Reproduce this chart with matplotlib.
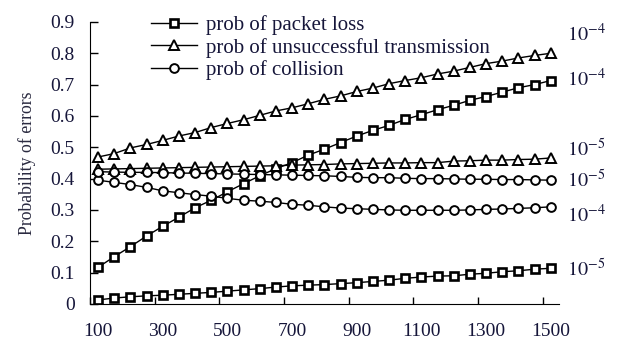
import numpy as np
import matplotlib.pyplot as plt

plt.rcParams['font.family'] = ['Liberation Serif', 'DejaVu Serif']
plt.rcParams['mathtext.fontset'] = 'stix'

x = np.arange(100, 1501, 50)

# set 1 (upper curves)
loss_1 = [0.117, 0.151, 0.183, 0.217, 0.248, 0.277, 0.307, 0.331, 0.358, 0.384,
          0.409, 0.432, 0.451, 0.475, 0.494, 0.515, 0.536, 0.554, 0.570, 0.589,
          0.604, 0.620, 0.634, 0.650, 0.662, 0.676, 0.690, 0.700, 0.713]
unsucc_1 = [0.469, 0.480, 0.498, 0.509, 0.522, 0.536, 0.547, 0.563, 0.576, 0.588,
            0.602, 0.616, 0.626, 0.639, 0.653, 0.664, 0.678, 0.689, 0.703, 0.713,
            0.722, 0.734, 0.743, 0.755, 0.767, 0.775, 0.785, 0.793, 0.800]
coll_1 = [0.395, 0.388, 0.381, 0.372, 0.361, 0.355, 0.349, 0.344, 0.337, 0.331,
          0.328, 0.324, 0.318, 0.315, 0.310, 0.306, 0.304, 0.302, 0.300, 0.299,
          0.299, 0.299, 0.299, 0.300, 0.302, 0.303, 0.305, 0.307, 0.310]

# set 2 (lower curves)
loss_2 = [0.013, 0.019, 0.023, 0.026, 0.028, 0.031, 0.034, 0.037, 0.041, 0.045,
          0.049, 0.054, 0.058, 0.060, 0.062, 0.065, 0.068, 0.072, 0.076, 0.082,
          0.086, 0.089, 0.090, 0.095, 0.098, 0.103, 0.106, 0.111, 0.114]
unsucc_2 = [0.430, 0.431, 0.432, 0.433, 0.434, 0.435, 0.436, 0.437, 0.438, 0.439,
            0.440, 0.441, 0.443, 0.444, 0.445, 0.447, 0.448, 0.449, 0.450, 0.450,
            0.451, 0.451, 0.456, 0.457, 0.459, 0.459, 0.461, 0.462, 0.466]
coll_2 = [0.422, 0.421, 0.420, 0.420, 0.419, 0.418, 0.417, 0.416, 0.415, 0.414,
          0.413, 0.412, 0.411, 0.410, 0.409, 0.407, 0.404, 0.403, 0.403, 0.401,
          0.400, 0.400, 0.399, 0.398, 0.398, 0.397, 0.397, 0.396, 0.395]

labels = ['prob of packet loss', 'prob of unsuccessful transmission', 'prob of collision']
end_labels = [r'$10^{-4}$', r'$10^{-4}$', r'$10^{-5}$', r'$10^{-5}$', r'$10^{-4}$', r'$10^{-5}$']
xtick_labels = [100, 300, 500, 700, 900, 1100, 1300, 1500]

txt = '#16163a'

fig = plt.figure(figsize=(6.26, 3.44), dpi=100)
ax = fig.add_axes([0.1438, 0.1163, 0.749, 0.82])

sq = dict(marker='s', ms=6.3, mew=1.9, mfc='white', mec='black')
tr = dict(marker='^', ms=6.8, mew=1.4, mfc='white', mec='black')
ci = dict(marker='o', ms=6.3, mew=1.4, mfc='white', mec='black')
line = dict(color='black', lw=1.0)

ax.plot(x, loss_1, label=labels[0], **line, **sq)
ax.plot(x, unsucc_1, label=labels[1], **line, **tr)
ax.plot(x, coll_1, label=labels[2], **line, **ci)
ax.plot(x, loss_2, **line, **sq)
ax.plot(x, unsucc_2, **line, **tr)
ax.plot(x, coll_2, **line, **ci)

# exponent labels at the right end of each curve
ends = [unsucc_1[-1], loss_1[-1], unsucc_2[-1], coll_2[-1], coll_1[-1], loss_2[-1]]
dys = [9, -4, 1, -5, -11, -6]
for lab, yv, dy in zip(end_labels, ends, dys):
    ax.annotate(lab, xy=(x[-1], yv), xytext=(12, dy), textcoords='offset points',
                ha='left', va='baseline', fontsize=14.5, color=txt, annotation_clip=False)

ax.set_xlim(75, 1525)
ax.set_ylim(0, 0.9)
ax.set_xticks(np.arange(75, 1500, 200))
ax.set_xticklabels([])
ax.set_xticks(xtick_labels, minor=True)
ax.set_xticklabels([str(v) for v in xtick_labels], minor=True)
ax.tick_params(axis='x', which='major', direction='in', length=5, width=1)
ax.tick_params(axis='x', which='minor', length=0, pad=14, labelsize=14, labelcolor=txt)
ax.set_yticks(np.arange(0, 0.91, 0.1))
ax.set_yticklabels(['0'] + [f'{v:.1f}' for v in np.arange(0.1, 0.91, 0.1)])
ax.tick_params(axis='y', direction='in', length=6, width=1, pad=11, labelsize=14, labelcolor=txt)

ax.spines['top'].set_visible(False)
ax.spines['right'].set_visible(False)
ax.set_ylabel('Probability of errors', fontsize=12.8, color='#2a2a40', labelpad=10)

fig.legend(loc='upper left', bbox_to_anchor=(0.212, 1.01), frameon=False, fontsize=15,
           handlelength=2.2, handletextpad=0.4, labelspacing=0.12, labelcolor=txt)

plt.savefig('out.png', dpi=100)
